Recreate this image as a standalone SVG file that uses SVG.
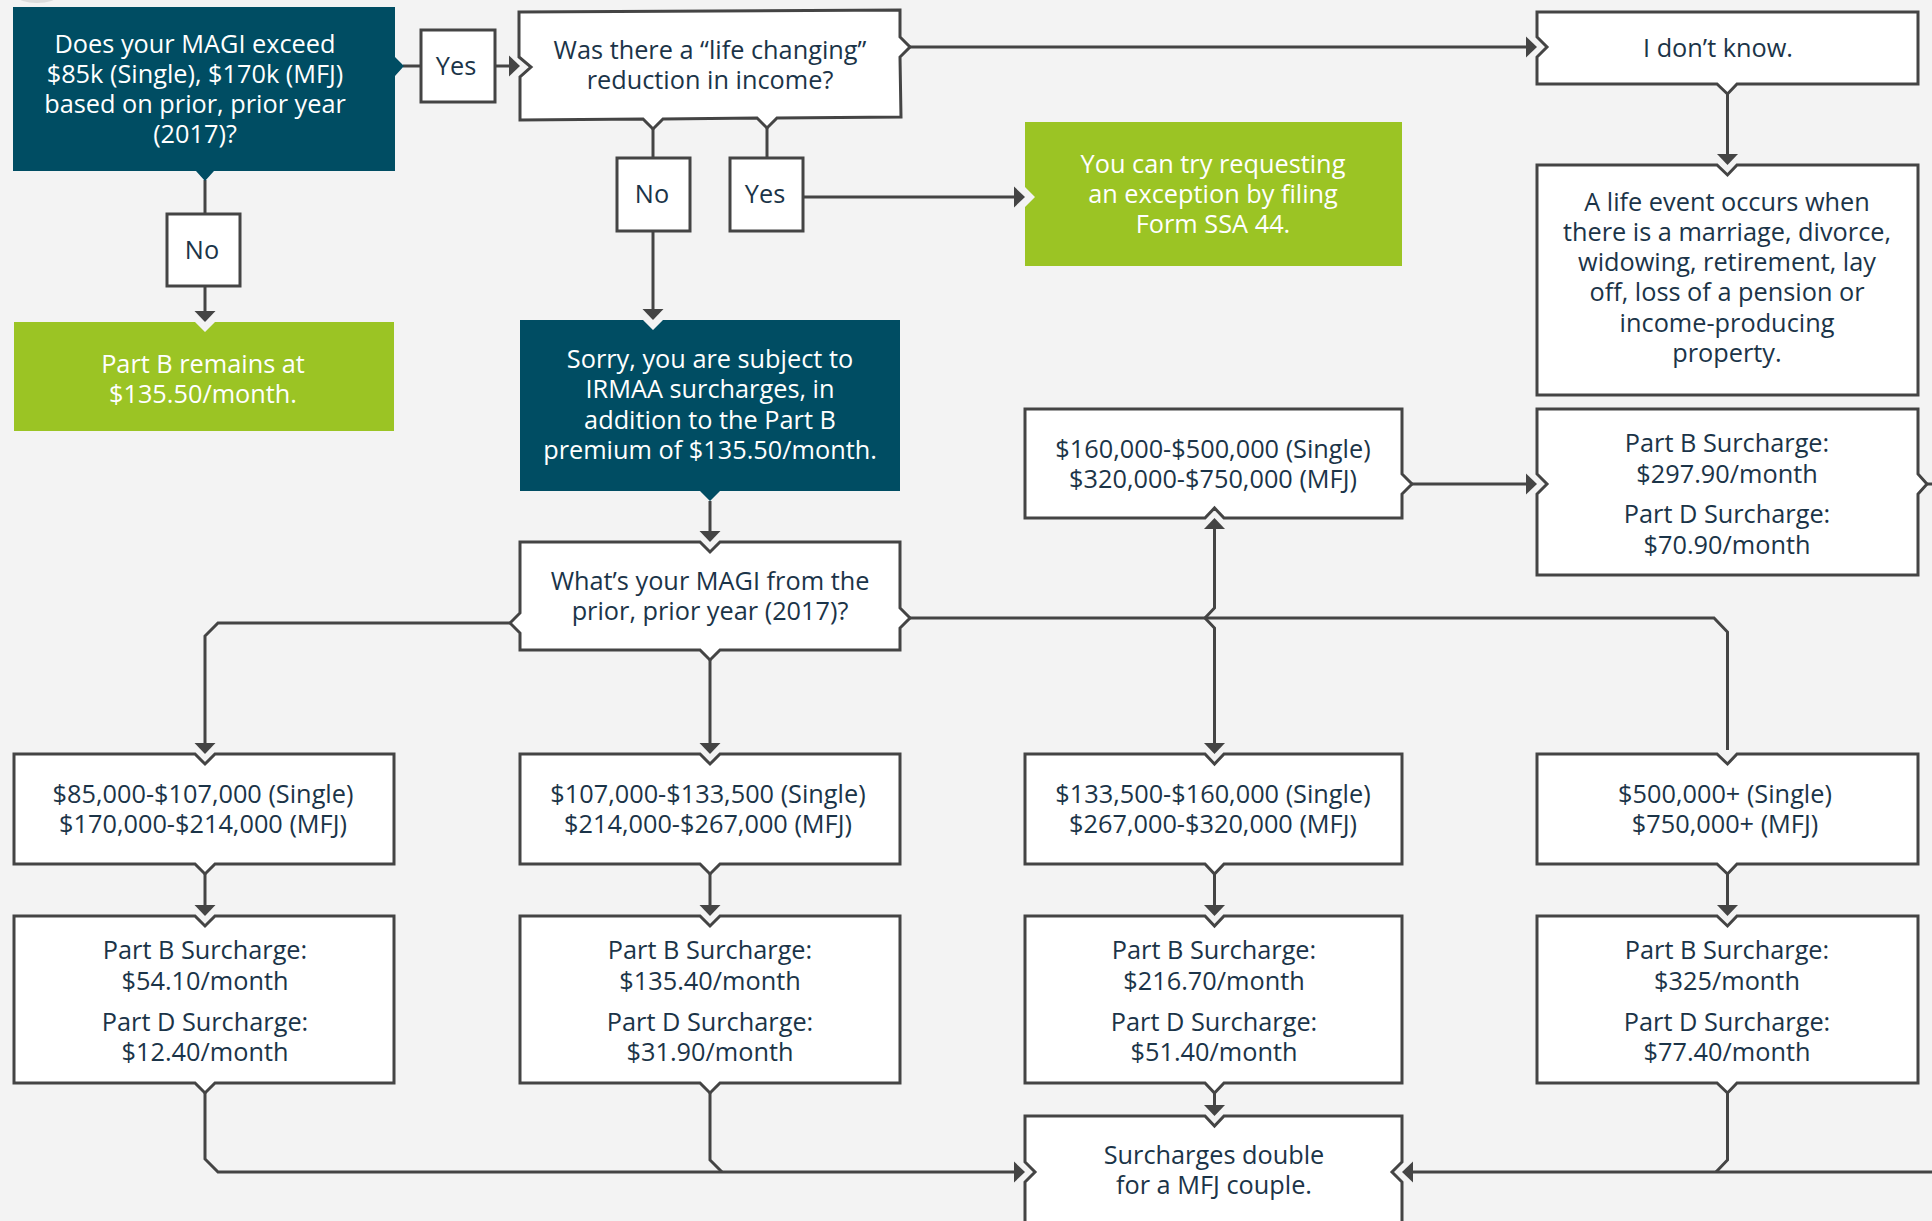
<svg xmlns="http://www.w3.org/2000/svg" width="1932" height="1221" viewBox="0 0 1932 1221">
<style>
text{font-family:"Open Sans","Noto Sans",sans-serif;font-size:25.3px;text-anchor:middle;fill:#1b3448}
.w{fill:#fff;stroke:#444;stroke-width:3}
.d{fill:#004d63}
.g{fill:#9bc424}
.dt text,text.l{fill:#fff}
.c{fill:none;stroke:#444;stroke-width:3}
.a{marker-end:url(#arr)}
</style>
<defs>
<marker id="arr" markerUnits="userSpaceOnUse" markerWidth="13" markerHeight="24" viewBox="-1 -12 13 24" refX="7" refY="0" orient="auto"><path d="M0,-10.500 L11,0 L0,10.500z" fill="#444"/></marker>
</defs>
<rect width="1932" height="1221" fill="#f3f3f3"/>
<ellipse cx="37" cy="-4" rx="20" ry="7" fill="#dcdcdc"/>
<g id="connectors">
<path class="c" d="M403,66H421"/>
<path class="c a" d="M495,66H516"/>
<path class="c" d="M205,180V213"/>
<path class="c a" d="M205,286V318"/>
<path class="c" d="M653,128V158"/>
<path class="c" d="M767,127V158"/>
<path class="c a" d="M653,231V316"/>
<path class="c a" d="M803,197H1021"/>
<path class="c a" d="M910,47H1533"/>
<path class="c a" d="M1727.500,94V161"/>
<path class="c a" d="M1412,484H1533"/>
<path class="c" d="M1927,484H1932"/>
<path class="c a" d="M710,501V538"/>
<path class="c a" d="M510,623H218L205,636V750"/>
<path class="c a" d="M710,660V750"/>
<path class="c" d="M910,618H1714L1727.500,632V750"/>
<path class="c a" d="M1205,618L1214.500,608V522"/>
<path class="c a" d="M1205,618L1214.500,628V750"/>
<path class="c a" d="M205,874V912"/>
<path class="c a" d="M710,874V912"/>
<path class="c a" d="M1214.500,874V912"/>
<path class="c a" d="M1727.500,874V912"/>
<path class="c a" d="M205,1093V1159L218,1172H1021"/>
<path class="c" d="M710,1093V1160L722,1172"/>
<path class="c a" d="M1214.500,1093V1112"/>
<path class="c" d="M1727.500,1093V1160L1716,1172"/>
<path class="c a" d="M1932,1172H1406"/>
</g>
<g id="q1" class="dt"><polygon class="d" points="13,7 395,7 395,57 404,66 395,76 395,171 214,171 205,181 196,171 13,171"/>
<text x="195" y="53">Does your MAGI exceed</text><text x="195" y="83">$85k (Single), $170k (MFJ)</text><text x="195" y="113">based on prior, prior year</text><text x="195" y="143">(2017)?</text></g>
<g id="yes1"><rect class="w" x="421" y="30" width="74" height="72"/><text x="456" y="75">Yes</text></g>
<g id="no1"><rect class="w" x="167" y="214" width="73" height="72"/><text x="202" y="259">No</text></g>
<g id="partb-remains" class="dt"><polygon class="g" points="14,322 195,322 205,332 215,322 394,322 394,431 14,431"/><text x="203" y="373">Part B remains at</text><text x="203" y="403">$135.50/month.</text></g>
<g id="q2"><polygon class="w" points="519,12 900,10 900,37 910,47 900,57 901,117 777,118 767,128 757,118 663,119 653,129 643,119 520,120 520,77 531,67 519,57"/>
<text x="710" y="59">Was there a “life changing”</text><text x="710" y="89">reduction in income?</text></g>
<g id="no2"><rect class="w" x="617" y="158" width="73" height="73"/><text x="652" y="203">No</text></g>
<g id="yes2"><rect class="w" x="730" y="158" width="73" height="73"/><text x="765" y="203">Yes</text></g>
<g id="exception" class="dt"><polygon class="g" points="1025,122 1402,122 1402,266 1025,266 1025,207 1035,197 1025,187"/><text x="1213" y="173">You can try requesting</text><text x="1213" y="203">an exception by filing</text><text x="1213" y="233">Form SSA 44.</text></g>
<g id="sorry" class="dt"><polygon class="d" points="520,320 643,320 653,330 663,320 900,320 900,491 720,491 710,501 700,491 520,491"/><text x="710" y="368">Sorry, you are subject to</text><text x="710" y="398">IRMAA surcharges, in</text><text x="710" y="429">addition to the Part B</text><text x="710" y="459">premium of $135.50/month.</text></g>
<g id="dont-know"><polygon class="w" points="1537,12 1918,12 1918,84 1737,84 1727.500,94 1717,84 1537,84 1537,57 1547,47 1537,37"/><text x="1718" y="57">I don’t know.</text></g>
<g id="life-event"><polygon class="w" points="1537,165 1717,165 1727.500,175 1737,165 1918,165 1918,395 1537,395"/><text x="1727" y="211">A life event occurs when</text><text x="1727" y="241">there is a marriage, divorce,</text><text x="1727" y="271">widowing, retirement, lay</text><text x="1727" y="301">off, loss of a pension or</text><text x="1727" y="332">income-producing</text><text x="1727" y="362">property.</text></g>
<g id="range5"><polygon class="w" points="1025,409 1402,409 1402,474 1412,484 1402,494 1402,518 1224,518 1214.500,508 1205,518 1025,518"/><text x="1213" y="458">$160,000-$500,000 (Single)</text><text x="1213" y="488">$320,000-$750,000 (MFJ)</text></g>
<g id="sur5"><polygon class="w" points="1537,409 1918,409 1918,474 1927,484 1918,494 1918,575 1537,575 1537,494 1547,484 1537,474"/><text x="1727" y="452">Part B Surcharge:</text><text x="1727" y="483">$297.90/month</text><text x="1727" y="523">Part D Surcharge:</text><text x="1727" y="554">$70.90/month</text></g>
<g id="q3"><polygon class="w" points="520,542 700,542 710,552 720,542 900,542 900,608 910,618 900,628 900,650 720,650 710,660 700,650 520,650 520,633 510,623 520,613"/><text x="710" y="590">What’s your MAGI from the</text><text x="710" y="620">prior, prior year (2017)?</text></g>
<g id="range1"><polygon class="w" points="14,754 195,754 205,764 215,754 394,754 394,864 215,864 205,874 195,864 14,864"/><text x="203" y="803">$85,000-$107,000 (Single)</text><text x="203" y="833">$170,000-$214,000 (MFJ)</text></g>
<g id="range2"><polygon class="w" points="520,754 700,754 710,764 720,754 900,754 900,864 720,864 710,874 700,864 520,864"/><text x="708" y="803">$107,000-$133,500 (Single)</text><text x="708" y="833">$214,000-$267,000 (MFJ)</text></g>
<g id="range3"><polygon class="w" points="1025,754 1205,754 1214.500,764 1224,754 1402,754 1402,864 1224,864 1214.500,874 1205,864 1025,864"/><text x="1213" y="803">$133,500-$160,000 (Single)</text><text x="1213" y="833">$267,000-$320,000 (MFJ)</text></g>
<g id="range4"><polygon class="w" points="1537,754 1717,754 1727.500,764 1737,754 1918,754 1918,864 1737,864 1727.500,874 1717,864 1537,864"/><text x="1725" y="803">$500,000+ (Single)</text><text x="1725" y="833">$750,000+ (MFJ)</text></g>
<g id="sur1"><polygon class="w" points="14,916 195,916 205,926 215,916 394,916 394,1083 215,1083 205,1093 195,1083 14,1083"/><text x="205" y="959">Part B Surcharge:</text><text x="205" y="990">$54.10/month</text><text x="205" y="1031">Part D Surcharge:</text><text x="205" y="1061">$12.40/month</text></g>
<g id="sur2"><polygon class="w" points="520,916 700,916 710,926 720,916 900,916 900,1083 720,1083 710,1093 700,1083 520,1083"/><text x="710" y="959">Part B Surcharge:</text><text x="710" y="990">$135.40/month</text><text x="710" y="1031">Part D Surcharge:</text><text x="710" y="1061">$31.90/month</text></g>
<g id="sur3"><polygon class="w" points="1025,916 1205,916 1214.500,926 1224,916 1402,916 1402,1083 1224,1083 1214.500,1093 1205,1083 1025,1083"/><text x="1214" y="959">Part B Surcharge:</text><text x="1214" y="990">$216.70/month</text><text x="1214" y="1031">Part D Surcharge:</text><text x="1214" y="1061">$51.40/month</text></g>
<g id="sur4"><polygon class="w" points="1537,916 1717,916 1727.500,926 1737,916 1918,916 1918,1083 1737,1083 1727.500,1093 1717,1083 1537,1083"/><text x="1727" y="959">Part B Surcharge:</text><text x="1727" y="990">$325/month</text><text x="1727" y="1031">Part D Surcharge:</text><text x="1727" y="1061">$77.40/month</text></g>
<g id="double"><polygon class="w" points="1025,1116 1205,1116 1214.500,1126 1224,1116 1402,1116 1402,1162 1392,1172 1402,1182 1402,1240 1025,1240 1025,1182 1035,1172 1025,1162"/><text x="1214" y="1164">Surcharges double</text><text x="1214" y="1194">for a MFJ couple.</text></g>
</svg>
